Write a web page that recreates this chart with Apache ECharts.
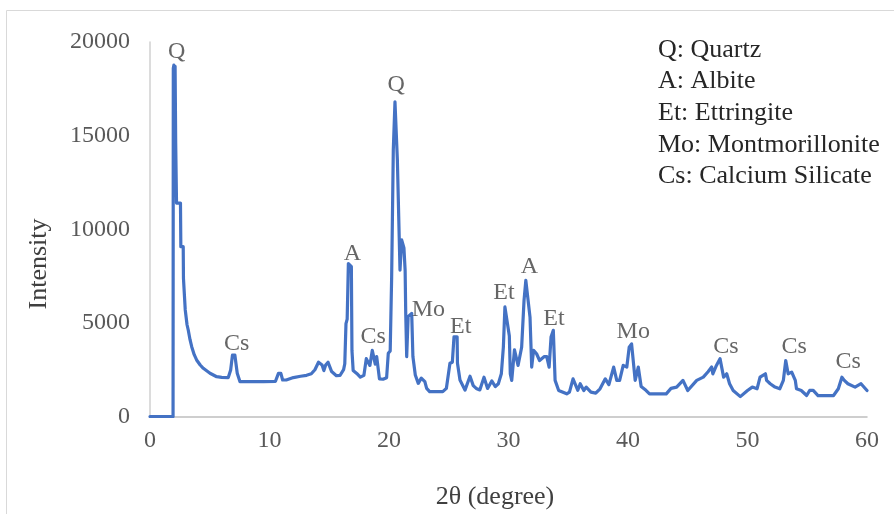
<!DOCTYPE html>
<html>
<meta charset="UTF-8">
<title>xrd-pattern</title>
<style type="text/css">
    html,
    body {
        margin: 0px;
        height: 100%;
        width: 100%;
        background: #ffffff;
    }

    #chart {
        width: 894px;
        height: 514px;
    }
</style>
<script src="https://cdn.jsdelivr.net/npm/echarts@6/dist/echarts.min.js"></script>

<body>
    <div id="chart"></div>
    <script>
        // pattern: 2θ (degree) and intensity
        const twoTheta = [
            0, 1.93, 1.95, 2.0, 2.05, 2.1, 2.15, 2.2, 2.22, 2.55, 2.58, 2.78, 2.8, 2.92, 2.95, 3.07,
            3.1, 3.2, 3.35, 3.49, 3.7, 3.9, 4.2, 4.46, 5.02, 5.58, 6.0, 6.55, 6.75, 6.9, 7.1, 7.3,
            7.53, 8.5, 9.5, 10.5, 10.75, 10.95, 11.1, 11.4, 12.0, 12.6, 13.1, 13.5, 13.8, 14.1, 14.4, 14.55,
            14.7, 14.9, 15.2, 15.6, 15.9, 16.2, 16.3, 16.4, 16.5, 16.6, 16.85, 16.9, 17.0, 17.3, 17.6, 17.9,
            18.1, 18.4, 18.6, 18.75, 18.85, 18.97, 19.2, 19.5, 19.8, 19.94, 20.1, 20.22, 20.36, 20.5, 20.64, 20.7,
            20.8, 20.92, 21.06, 21.25, 21.35, 21.4, 21.48, 21.6, 21.9, 22.0, 22.2, 22.45, 22.7, 23.0, 23.15, 23.4,
            24.5, 24.8, 25.1, 25.3, 25.44, 25.7, 25.73, 25.94, 26.36, 26.78, 27.05, 27.3, 27.6, 27.95, 28.25, 28.6,
            28.9, 29.15, 29.4, 29.57, 29.7, 29.85, 30.07, 30.15, 30.27, 30.5, 30.8, 31.1, 31.3, 31.45, 31.57, 31.8,
            31.94, 32.1, 32.35, 32.6, 33.0, 33.2, 33.4, 33.56, 33.75, 33.9, 34.2, 34.87, 35.1, 35.4, 35.8, 36.0,
            36.3, 36.5, 36.9, 37.3, 37.66, 38.1, 38.4, 38.8, 39.06, 39.3, 39.6, 39.9, 40.1, 40.3, 40.6, 40.86,
            41.1, 41.5, 41.8, 43.2, 43.6, 44.07, 44.6, 45.0, 45.75, 46.3, 46.7, 47.0, 47.1, 47.4, 47.7, 48.0,
            48.26, 48.5, 48.8, 49.4, 50.0, 50.4, 50.8, 51.05, 51.5, 51.6, 51.9, 52.3, 52.7, 53.0, 53.2, 53.4,
            53.7, 54.0, 54.1, 54.5, 54.95, 55.2, 55.5, 55.9, 57.2, 57.6, 57.9, 58.1, 58.4, 59.0, 59.5, 60.0
        ];
        const intensity = [
            0, 0, 18600, 18770, 18400, 18700, 14600, 14500, 11400, 11400, 9070, 9070, 7380, 7380, 5690, 5690,
            4900, 4620, 4100, 3730, 3300, 3020, 2750, 2575, 2310, 2125, 2090, 2080, 2480, 3280, 3280, 2310,
            1860, 1860, 1860, 1880, 2300, 2300, 1950, 1950, 2080, 2150, 2200, 2280, 2500, 2900, 2750, 2450,
            2750, 2900, 2400, 2180, 2190, 2500, 2820, 4960, 5200, 8170, 8000, 3530, 2460, 2300, 2100, 2200,
            3090, 2730, 3530, 3530, 2800, 3200, 2010, 1990, 2070, 3375, 3500, 7380, 14230, 16810, 16750, 13700,
            13600, 7820, 9430, 9000, 7800, 5510, 3200, 5330, 5510, 3200, 2215, 1770, 2050, 1860, 1500, 1325,
            1325, 1500, 2840, 2900, 4260, 4260, 2840, 1950, 1410, 2150, 1650, 1500, 1420, 2100, 1500, 1900,
            1600, 1750, 2280, 3700, 5850, 5850, 4300, 2280, 1930, 3560, 2730, 3700, 6200, 7270, 7270, 5310,
            2640, 3530, 3350, 2990, 3200, 3200, 2640, 4240, 4600, 1930, 1390, 1210, 1300, 2010, 1400, 1750,
            1390, 1570, 1300, 1250, 1480, 2010, 1700, 2640, 1930, 1930, 2730, 2640, 3700, 3880, 1930, 2640,
            1600, 1400, 1210, 1210, 1500, 1570, 1930, 1390, 1930, 2100, 2390, 2640, 2280, 2730, 3090, 2100,
            2280, 1750, 1390, 1060, 1390, 1570, 1480, 2100, 2280, 1930, 1750, 1570, 1480, 1930, 2990, 2280,
            2370, 1930, 1480, 1390, 1120, 1390, 1390, 1120, 1120, 1480, 2100, 1930, 1750, 1570, 1750, 1390
        ];

        // phase marks over the peaks
        const peakNames = ['Q', 'Cs', 'A', 'Cs', 'Q', 'Mo', 'Et', 'Et', 'A', 'Et', 'Mo', 'Cs', 'Cs', 'Cs'];
        const peakX = [2.23, 7.26, 16.93, 18.68, 20.6, 23.29, 26.0, 29.62, 31.74, 33.81, 40.44, 48.2, 53.9, 58.43];
        const peakY = [19480, 3910, 8715, 4260, 17700, 5690, 4800, 6620, 8000, 5245, 4530, 3730, 3730, 2930];

        const legendLines = ['Q: Quartz', 'A: Albite', 'Et: Ettringite', 'Mo: Montmorillonite', 'Cs: Calcium Silicate'];

        const serif = '"Liberation Serif", "Times New Roman", serif';

        const chart = echarts.init(document.querySelector('#chart'));

        const lineData = twoTheta.map((t, i) => [t, intensity[i]]);
        const markData = peakNames.map((n, i) => ({ name: n, value: [peakX[i], peakY[i]] }));

        const graphics = [
            {
                type: 'rect',
                shape: { x: 6.5, y: 10.5, width: 900, height: 520 },
                style: { fill: null, stroke: '#d9d9d9', lineWidth: 1 },
                silent: true
            },
            {
                type: 'text',
                x: 39, y: 264, rotation: Math.PI / 2,
                style: {
                    text: 'Intensity', font: '26px ' + serif, fill: '#404040',
                    align: 'center', verticalAlign: 'middle'
                }
            },
            {
                type: 'text',
                x: 495, y: 497,
                style: {
                    text: '2θ (degree)', font: '26px ' + serif, fill: '#404040',
                    align: 'center', verticalAlign: 'middle'
                }
            }
        ];
        legendLines.forEach((s, i) => {
            graphics.push({
                type: 'text',
                x: 658, y: 50 + i * 31.6,
                style: {
                    text: s, font: '26px ' + serif, fill: '#262626',
                    align: 'left', verticalAlign: 'middle'
                }
            });
        });

        const options = {
            animation: false,
            grid: { left: 150, top: 42, width: 717, height: 374.5 },
            xAxis: {
                type: 'value',
                min: 0, max: 60, interval: 10,
                axisLine: { show: true, onZero: false, lineStyle: { color: '#bfbfbf', width: 1.5 } },
                axisTick: { show: false },
                splitLine: { show: false },
                axisLabel: { fontFamily: serif, fontSize: 24, color: '#595959', margin: 12 }
            },
            yAxis: {
                type: 'value',
                min: 0, max: 20000, interval: 5000,
                axisLine: { show: true, lineStyle: { color: '#d0d0d0', width: 1.5 } },
                axisTick: { show: false },
                splitLine: { show: false },
                axisLabel: {
                    fontFamily: serif, fontSize: 24, color: '#595959', margin: 20,
                    formatter: v => String(v)
                }
            },
            graphic: graphics,
            series: [
                {
                    type: 'line',
                    data: lineData,
                    showSymbol: false,
                    lineStyle: { color: '#4472c4', width: 3.2, cap: 'round', join: 'round' }
                },
                {
                    type: 'scatter',
                    data: markData,
                    symbolSize: 0,
                    silent: true,
                    z: 5,
                    label: {
                        show: true,
                        position: 'inside',
                        formatter: p => p.name,
                        fontFamily: serif,
                        fontSize: 24,
                        color: '#404040'
                    }
                }
            ]
        };
        chart.setOption(options);
    </script>
</body>

</html>
